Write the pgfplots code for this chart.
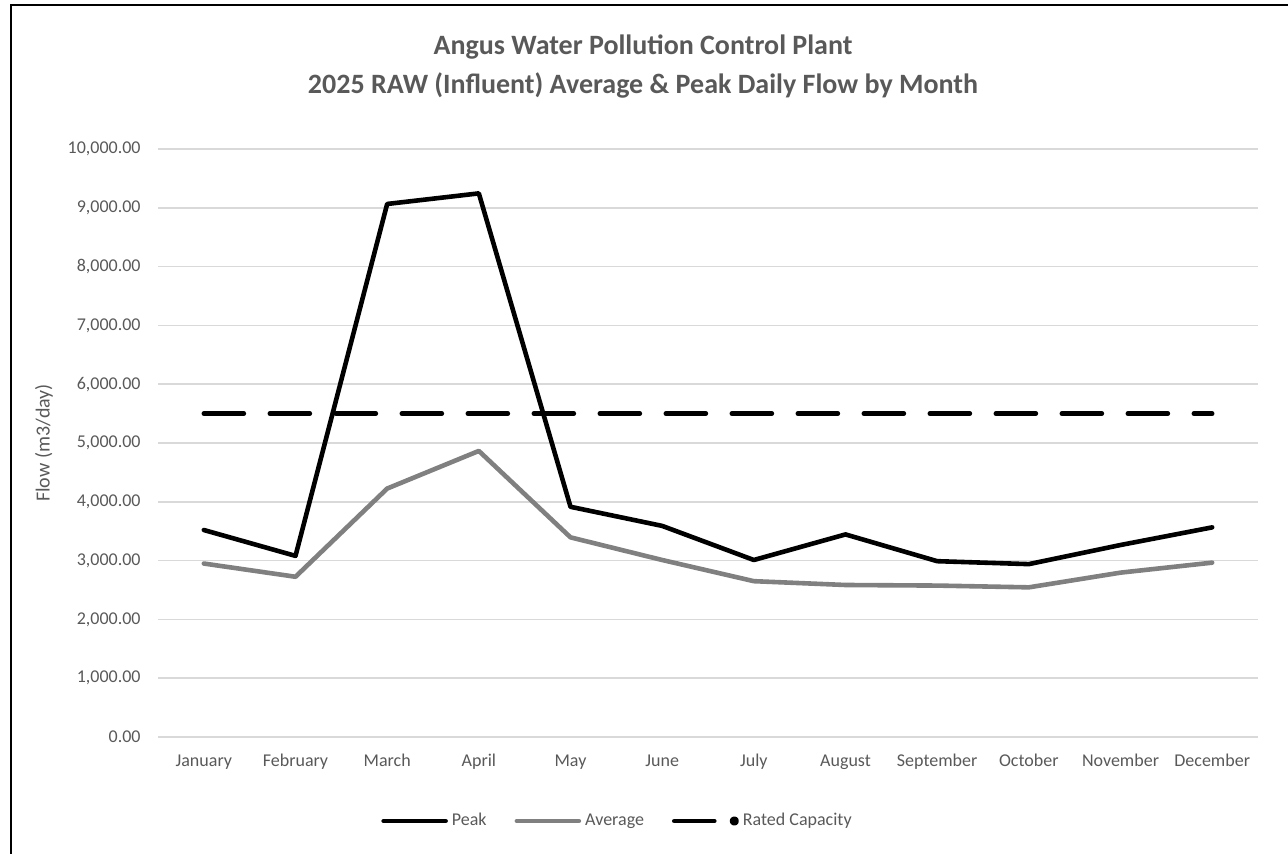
\documentclass[border=0pt]{standalone}
\usepackage{fontspec}
\setmainfont{Carlito}
\usepackage{pgfplots}
\pgfplotsset{compat=1.18}
\definecolor{txtgray}{HTML}{595959}
\definecolor{gridgray}{HTML}{D9D9D9}
\definecolor{avggray}{HTML}{808080}

\pgfplotstableread{
m peak avg rated
0  3520 2950 5500
1  3080 2725 5500
2  9065 4225 5500
3  9245 4865 5500
4  3915 3395 5500
5  3590 3010 5500
6  3010 2650 5500
7  3445 2585 5500
8  2990 2575 5500
9  2940 2545 5500
10 3265 2795 5500
11 3565 2965 5500
}\flowdata

\begin{document}
\begin{tikzpicture}
\useasboundingbox (0,0) rectangle (644pt,427pt);
% chart frame (only left and top edges are in view)
\draw[line width=1pt] (5.5pt,0) -- (5.5pt,424.5pt) -- (644pt,424.5pt);
% title
\node[anchor=base, text=txtgray, font=\fontsize{14}{17}\selectfont\bfseries]
  at (321.5pt,399.5pt) {Angus Water Pollution Control Plant};
\node[anchor=base, text=txtgray, font=\fontsize{14}{17}\selectfont\bfseries]
  at (321.5pt,380pt) {2025 RAW (Influent) Average \& Peak Daily Flow by Month};
% y axis title
\node[rotate=90, text=txtgray, font=\fontsize{10}{12}\selectfont]
  at (22pt,205.5pt) {Flow (m3/day)};

\begin{axis}[
  at={(79pt,58.5pt)}, anchor=south west,
  scale only axis, width=550pt, height=294pt,
  xmin=-0.5, xmax=11.5, ymin=0, ymax=10000,
  xtick={0,...,11},
  xticklabels={January,February,March,April,May,June,July,August,September,October,November,December},
  ytick={0,1000,...,10000},
  scaled y ticks=false,
  yticklabel={\pgfmathprintnumber[fixed,fixed zerofill,precision=2,1000 sep={,},assume math mode=true]{\tick}},
  ymajorgrids, grid style={gridgray, line width=0.75pt},
  axis line style={draw=none}, major tick length=0pt,
  tick label style={text=txtgray, font=\fontsize{9}{11}\selectfont, inner sep=0pt},
  x tick label style={anchor=north, yshift=-8pt, text height=6.5pt, text depth=2pt},
  y tick label style={anchor=east, xshift=-8.5pt},
  clip=false,
  legend columns=3,
  legend style={at={(0.4168,-0.1429)}, anchor=center, draw=none, fill=none,
    inner sep=0pt, outer sep=0pt,
    nodes={inner sep=0pt, text=txtgray, font=\fontsize{9}{11}\selectfont},
    /tikz/every odd column/.append style={column sep=2pt},
    /tikz/every even column/.append style={column sep=14pt}},
  every axis plot/.append style={line cap=round, line join=round},
]
\addplot[black, line width=2.3pt,
  legend image code/.code={\path (0pt,0pt) -- (31pt,0pt);
    \draw[black, line width=2.3pt, line cap=round] (1.15pt,0pt) -- (29.85pt,0pt);}]
  table[x=m, y=peak] {\flowdata};
\addlegendentry{Peak}
\addplot[avggray, line width=2.3pt,
  legend image code/.code={\path (0pt,0pt) -- (31pt,0pt);
    \draw[avggray, line width=2.3pt, line cap=round] (1.15pt,0pt) -- (29.85pt,0pt);}]
  table[x=m, y=avg] {\flowdata};
\addlegendentry{Average}
\addplot[black, line width=2.3pt, dash pattern=on 20pt off 13pt,
  legend image code/.code={\path (0pt,0pt) -- (31pt,0pt);
    \draw[black, line width=2.3pt, line cap=round] (1.15pt,0pt) -- (19.4pt,0pt);
    \fill[black] (30pt,0pt) circle (1.15pt);}]
  table[x=m, y=rated] {\flowdata};
\addlegendentry{Rated Capacity}
\end{axis}
\end{tikzpicture}
\end{document}
